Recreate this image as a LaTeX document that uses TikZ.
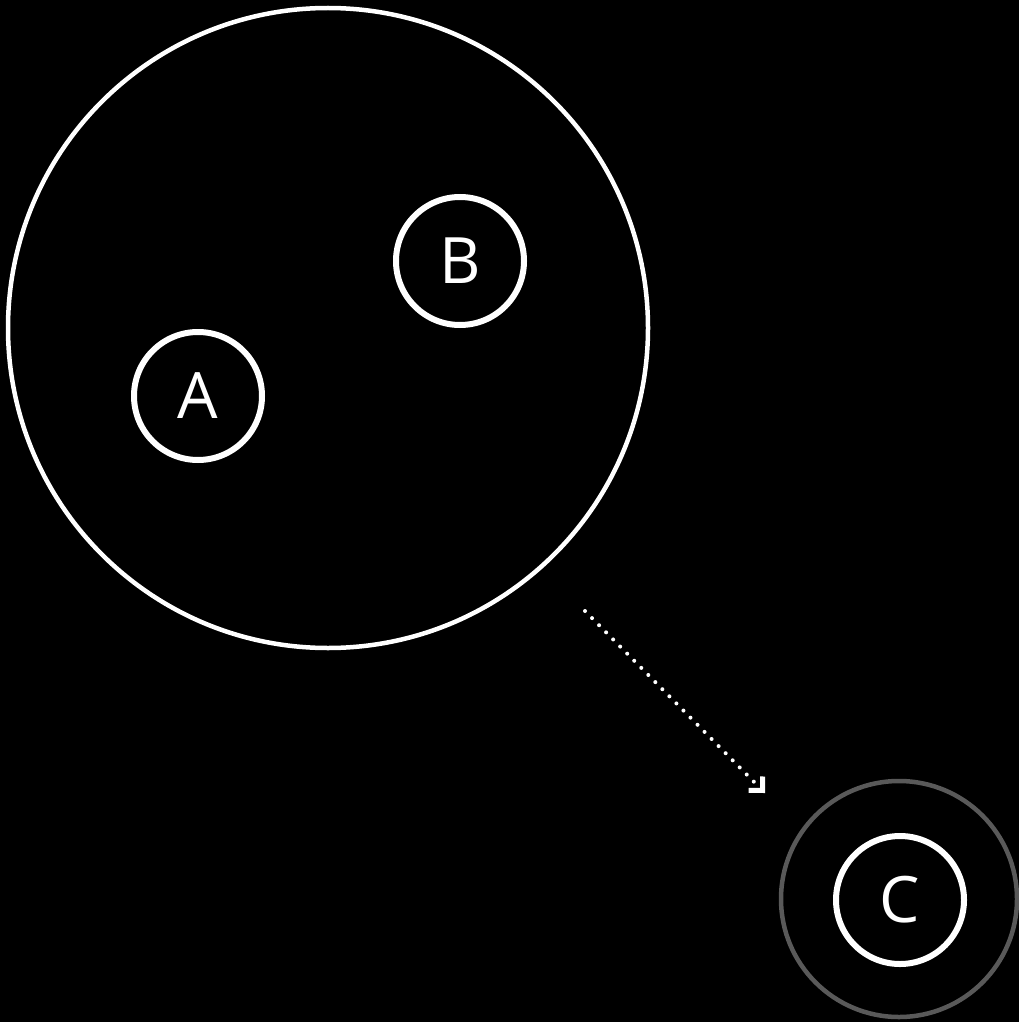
\documentclass[tikz,border=0pt]{standalone}
\usepackage{fontspec}
\setmainfont{Open Sans}
\usetikzlibrary{arrows.meta}
\begin{document}
\begin{tikzpicture}[x=1pt,y=-1pt,
  ring/.style={circle, draw=white, line width=6pt, minimum size=128pt, inner sep=0pt,
               text=white, font=\fontsize{64}{64}\selectfont},
  outer/.style={circle, draw=white, line width=4.5pt, minimum size=640pt, inner sep=0pt},
  halo/.style={circle, draw=black!65, line width=4.5pt, minimum size=236pt, inner sep=0pt},
  link/.style={draw=white, line width=4pt, dash pattern=on 0pt off 10pt, line cap=round,
               -{Straight Barb[angle=90:14pt, line width=5pt, line cap=butt, line join=miter]}}]
  % canvas
  \fill[black] (0,0) rectangle (1019,1022);
  \useasboundingbox (0,0) rectangle (1019,1022);
  % group containing A and B
  \node[outer] (grp) at (328,328) {};
  \node[ring] (A) at (198,396) {A};
  \node[ring] (B) at (460,261) {B};
  % target C with its grey halo
  \node[halo] (halo) at (899,899) {};
  \node[ring] (C) at (900,900) {C};
  % dotted move arrow
  \coordinate (from) at (585,611);
  \coordinate (to) at (765,793);
  \draw[link] (from) -- (to);
\end{tikzpicture}
\end{document}
